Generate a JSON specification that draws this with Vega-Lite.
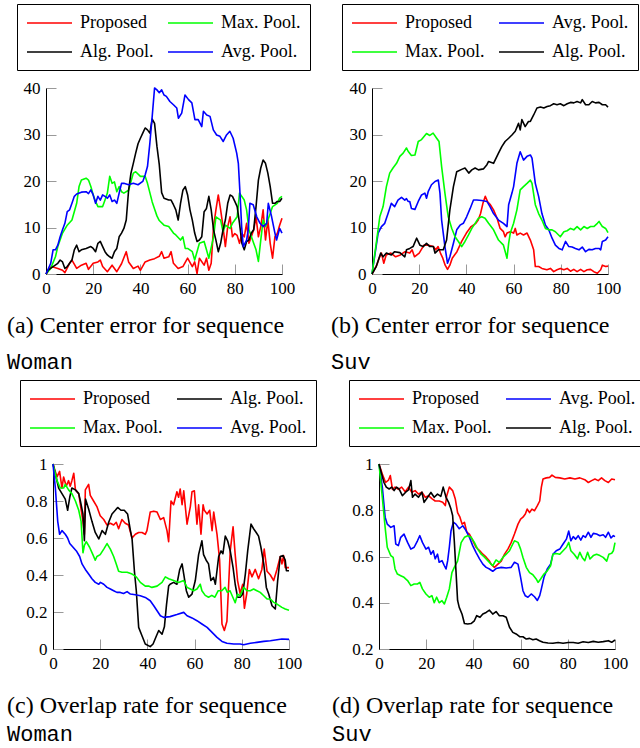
{
"$schema":"https://vega.github.io/schema/vega-lite/v6.json",
"padding":{"left":7,"top":3,"right":0,"bottom":0},
"datasets":{
"a":[
{"s":"P","x":0,"y":0},{"s":"P","x":2,"y":1.5},{"s":"P","x":3,"y":1.5},{"s":"P","x":5,"y":1.2},{"s":"P","x":7,"y":0.8},{"s":"P","x":8,"y":0.3},{"s":"P","x":10,"y":2.3},{"s":"P","x":11,"y":3},{"s":"P","x":13,"y":1.2},{"s":"P","x":15,"y":1.9},{"s":"P","x":17,"y":2.3},{"s":"P","x":18,"y":1},{"s":"P","x":20,"y":2.3},{"s":"P","x":22,"y":2.6},{"s":"P","x":23,"y":3},{"s":"P","x":24,"y":1.6},{"s":"P","x":26,"y":0.5},{"s":"P","x":28,"y":1.9},{"s":"P","x":30,"y":0.5},{"s":"P","x":32,"y":2.2},{"s":"P","x":34,"y":4.8},{"s":"P","x":35,"y":2.6},{"s":"P","x":37,"y":1.2},{"s":"P","x":39,"y":1.7},{"s":"P","x":40,"y":0.8},{"s":"P","x":42,"y":2.6},{"s":"P","x":44,"y":3},{"s":"P","x":46,"y":3.3},{"s":"P","x":48,"y":3.8},{"s":"P","x":49,"y":4.8},{"s":"P","x":50,"y":3.4},{"s":"P","x":52,"y":3.7},{"s":"P","x":53,"y":4.8},{"s":"P","x":54,"y":2.3},{"s":"P","x":56,"y":1.2},{"s":"P","x":58,"y":1.6},{"s":"P","x":60,"y":3.4},{"s":"P","x":62,"y":1.6},{"s":"P","x":63,"y":2.6},{"s":"P","x":64,"y":0.1},{"s":"P","x":65,"y":3.4},{"s":"P","x":67,"y":1.9},{"s":"P","x":68,"y":3.4},{"s":"P","x":69,"y":0.8},{"s":"P","x":70,"y":2.3},{"s":"P","x":71,"y":10.2},{"s":"P","x":72,"y":13.8},{"s":"P","x":73,"y":17},{"s":"P","x":74,"y":13.8},{"s":"P","x":75,"y":10.2},{"s":"P","x":76,"y":5.9},{"s":"P","x":77,"y":10.2},{"s":"P","x":78,"y":12.3},{"s":"P","x":79,"y":8},{"s":"P","x":80,"y":8.7},{"s":"P","x":81,"y":8.3},{"s":"P","x":82,"y":6.6},{"s":"P","x":83,"y":8.7},{"s":"P","x":84,"y":8},{"s":"P","x":85,"y":10.9},{"s":"P","x":86,"y":6.6},{"s":"P","x":87,"y":8},{"s":"P","x":88,"y":9.5},{"s":"P","x":89,"y":12.3},{"s":"P","x":90,"y":8},{"s":"P","x":91,"y":10.2},{"s":"P","x":92,"y":13.8},{"s":"P","x":93,"y":7.3},{"s":"P","x":94,"y":11.6},{"s":"P","x":95,"y":6.6},{"s":"P","x":96,"y":3.4},{"s":"P","x":97,"y":8},{"s":"P","x":98,"y":8.7},{"s":"P","x":99,"y":10.5},{"s":"P","x":100,"y":12},
{"s":"M","x":0,"y":0},{"s":"M","x":2,"y":1.2},{"s":"M","x":4,"y":3.7},{"s":"M","x":5,"y":5.9},{"s":"M","x":7,"y":8.8},{"s":"M","x":9,"y":10.5},{"s":"M","x":11,"y":11.6},{"s":"M","x":13,"y":15.2},{"s":"M","x":14,"y":18.8},{"s":"M","x":15,"y":20.2},{"s":"M","x":17,"y":20.6},{"s":"M","x":18,"y":20.2},{"s":"M","x":19,"y":18.8},{"s":"M","x":20,"y":17},{"s":"M","x":21,"y":15.6},{"s":"M","x":22,"y":14.5},{"s":"M","x":24,"y":14.5},{"s":"M","x":25,"y":15.9},{"s":"M","x":26,"y":17.4},{"s":"M","x":27,"y":21},{"s":"M","x":28,"y":19.5},{"s":"M","x":29,"y":19.8},{"s":"M","x":30,"y":17.7},{"s":"M","x":31,"y":18.8},{"s":"M","x":32,"y":17.7},{"s":"M","x":33,"y":17.4},{"s":"M","x":35,"y":18},{"s":"M","x":37,"y":21.7},{"s":"M","x":38,"y":22},{"s":"M","x":40,"y":21},{"s":"M","x":42,"y":21},{"s":"M","x":43,"y":19.5},{"s":"M","x":44,"y":17.5},{"s":"M","x":45,"y":15.5},{"s":"M","x":46,"y":14},{"s":"M","x":47,"y":12.5},{"s":"M","x":48,"y":11.5},{"s":"M","x":50,"y":10.5},{"s":"M","x":52,"y":10.2},{"s":"M","x":54,"y":8.8},{"s":"M","x":55,"y":8.4},{"s":"M","x":57,"y":7.3},{"s":"M","x":58,"y":8},{"s":"M","x":59,"y":5.5},{"s":"M","x":60,"y":5.5},{"s":"M","x":62,"y":4.8},{"s":"M","x":63,"y":3},{"s":"M","x":64,"y":4.8},{"s":"M","x":65,"y":6.6},{"s":"M","x":67,"y":7},{"s":"M","x":68,"y":5.2},{"s":"M","x":69,"y":3.4},{"s":"M","x":71,"y":8},{"s":"M","x":72,"y":12.3},{"s":"M","x":74,"y":11.6},{"s":"M","x":75,"y":9.1},{"s":"M","x":76,"y":10.5},{"s":"M","x":78,"y":9.8},{"s":"M","x":79,"y":10.9},{"s":"M","x":81,"y":12.3},{"s":"M","x":82,"y":17.4},{"s":"M","x":84,"y":15.9},{"s":"M","x":85,"y":13.8},{"s":"M","x":86,"y":9.5},{"s":"M","x":88,"y":6.6},{"s":"M","x":89,"y":5.2},{"s":"M","x":90,"y":2.7},{"s":"M","x":91,"y":7.3},{"s":"M","x":92,"y":11.6},{"s":"M","x":93,"y":10.2},{"s":"M","x":95,"y":13},{"s":"M","x":96,"y":14.5},{"s":"M","x":98,"y":15.2},{"s":"M","x":99,"y":16.3},{"s":"M","x":100,"y":16.7},
{"s":"A","x":0,"y":0},{"s":"A","x":1,"y":0.9},{"s":"A","x":3,"y":1.6},{"s":"A","x":5,"y":2.3},{"s":"A","x":6,"y":3},{"s":"A","x":7,"y":2.6},{"s":"A","x":8,"y":1.2},{"s":"A","x":9,"y":1.6},{"s":"A","x":10,"y":2.3},{"s":"A","x":11,"y":3},{"s":"A","x":12,"y":5.2},{"s":"A","x":13,"y":6.2},{"s":"A","x":14,"y":4.8},{"s":"A","x":15,"y":5.2},{"s":"A","x":17,"y":5.5},{"s":"A","x":19,"y":5.9},{"s":"A","x":20,"y":5.5},{"s":"A","x":21,"y":4.8},{"s":"A","x":22,"y":6.6},{"s":"A","x":23,"y":7},{"s":"A","x":24,"y":5.9},{"s":"A","x":25,"y":4.8},{"s":"A","x":26,"y":4.1},{"s":"A","x":27,"y":3.7},{"s":"A","x":28,"y":3.4},{"s":"A","x":29,"y":4.8},{"s":"A","x":30,"y":5.5},{"s":"A","x":31,"y":8},{"s":"A","x":32,"y":8.8},{"s":"A","x":33,"y":9.8},{"s":"A","x":34,"y":11.6},{"s":"A","x":35,"y":18},{"s":"A","x":36,"y":21.7},{"s":"A","x":37,"y":23.8},{"s":"A","x":38,"y":26},{"s":"A","x":39,"y":28},{"s":"A","x":40,"y":29.2},{"s":"A","x":41,"y":30.3},{"s":"A","x":42,"y":31.4},{"s":"A","x":43,"y":31},{"s":"A","x":44,"y":30.3},{"s":"A","x":45,"y":33.3},{"s":"A","x":46,"y":32.4},{"s":"A","x":47,"y":27.5},{"s":"A","x":48,"y":23.5},{"s":"A","x":49,"y":17.5},{"s":"A","x":50,"y":16.3},{"s":"A","x":52,"y":15.9},{"s":"A","x":53,"y":15.9},{"s":"A","x":54,"y":14.9},{"s":"A","x":55,"y":13.8},{"s":"A","x":56,"y":11.6},{"s":"A","x":57,"y":15.2},{"s":"A","x":58,"y":18},{"s":"A","x":59,"y":18.8},{"s":"A","x":60,"y":17},{"s":"A","x":61,"y":13.8},{"s":"A","x":62,"y":11.6},{"s":"A","x":63,"y":8.8},{"s":"A","x":64,"y":7},{"s":"A","x":65,"y":7.3},{"s":"A","x":66,"y":8},{"s":"A","x":67,"y":13.4},{"s":"A","x":68,"y":14.1},{"s":"A","x":69,"y":16.7},{"s":"A","x":70,"y":13.8},{"s":"A","x":71,"y":9.5},{"s":"A","x":72,"y":7.3},{"s":"A","x":73,"y":4.8},{"s":"A","x":74,"y":6.6},{"s":"A","x":75,"y":9.5},{"s":"A","x":76,"y":11.6},{"s":"A","x":77,"y":15.2},{"s":"A","x":78,"y":17},{"s":"A","x":79,"y":16.7},{"s":"A","x":80,"y":15.6},{"s":"A","x":81,"y":14.5},{"s":"A","x":82,"y":10.9},{"s":"A","x":83,"y":6.6},{"s":"A","x":84,"y":5.2},{"s":"A","x":85,"y":7},{"s":"A","x":86,"y":7.3},{"s":"A","x":87,"y":8.8},{"s":"A","x":88,"y":9.5},{"s":"A","x":89,"y":14.5},{"s":"A","x":90,"y":20.2},{"s":"A","x":91,"y":22.8},{"s":"A","x":92,"y":24.5},{"s":"A","x":93,"y":23.8},{"s":"A","x":94,"y":21.7},{"s":"A","x":95,"y":18.8},{"s":"A","x":96,"y":15.2},{"s":"A","x":97,"y":15.2},{"s":"A","x":98,"y":15.6},{"s":"A","x":99,"y":15.6},{"s":"A","x":100,"y":16.3},
{"s":"V","x":0,"y":0},{"s":"V","x":2,"y":2.3},{"s":"V","x":3,"y":5.2},{"s":"V","x":4,"y":5.2},{"s":"V","x":5,"y":6.2},{"s":"V","x":6,"y":8},{"s":"V","x":7,"y":9.5},{"s":"V","x":8,"y":10.9},{"s":"V","x":9,"y":13.4},{"s":"V","x":10,"y":13.8},{"s":"V","x":11,"y":15.2},{"s":"V","x":12,"y":16.7},{"s":"V","x":13,"y":17.2},{"s":"V","x":15,"y":17.6},{"s":"V","x":17,"y":17.7},{"s":"V","x":18,"y":17.3},{"s":"V","x":19,"y":18.1},{"s":"V","x":20,"y":17},{"s":"V","x":21,"y":15.2},{"s":"V","x":22,"y":16.7},{"s":"V","x":23,"y":15.9},{"s":"V","x":24,"y":17},{"s":"V","x":25,"y":16.7},{"s":"V","x":26,"y":16.3},{"s":"V","x":27,"y":17},{"s":"V","x":28,"y":15.6},{"s":"V","x":29,"y":15.9},{"s":"V","x":30,"y":15.2},{"s":"V","x":31,"y":17.4},{"s":"V","x":32,"y":19.5},{"s":"V","x":33,"y":19.5},{"s":"V","x":35,"y":19.2},{"s":"V","x":37,"y":19.5},{"s":"V","x":39,"y":19.2},{"s":"V","x":41,"y":19.9},{"s":"V","x":42,"y":21.3},{"s":"V","x":43,"y":23.1},{"s":"V","x":44,"y":28.1},{"s":"V","x":45,"y":33.9},{"s":"V","x":46,"y":40},{"s":"V","x":47,"y":39.6},{"s":"V","x":48,"y":39},{"s":"V","x":49,"y":39.6},{"s":"V","x":50,"y":38.5},{"s":"V","x":51,"y":38.2},{"s":"V","x":52.5,"y":37.1},{"s":"V","x":54,"y":36.4},{"s":"V","x":55.4,"y":35.7},{"s":"V","x":56.1,"y":33.5},{"s":"V","x":57.5,"y":34.6},{"s":"V","x":58.9,"y":38.5},{"s":"V","x":60.4,"y":37.5},{"s":"V","x":61.8,"y":36.8},{"s":"V","x":63.1,"y":33.2},{"s":"V","x":64.5,"y":33.2},{"s":"V","x":66,"y":31.7},{"s":"V","x":66.7,"y":35},{"s":"V","x":68.1,"y":34.2},{"s":"V","x":69.5,"y":33.9},{"s":"V","x":70.9,"y":31},{"s":"V","x":72.3,"y":29.9},{"s":"V","x":73.7,"y":29.6},{"s":"V","x":75.1,"y":28.5},{"s":"V","x":76.5,"y":29.9},{"s":"V","x":77.9,"y":30.7},{"s":"V","x":79.3,"y":29.2},{"s":"V","x":80.8,"y":26},{"s":"V","x":81.5,"y":23.8},{"s":"V","x":82.2,"y":17.4},{"s":"V","x":82.9,"y":10.2},{"s":"V","x":83.6,"y":5.9},{"s":"V","x":85,"y":7.3},{"s":"V","x":85.7,"y":9.5},{"s":"V","x":86.4,"y":15.2},{"s":"V","x":87.8,"y":14.9},{"s":"V","x":89.3,"y":12.3},{"s":"V","x":90.7,"y":10.9},{"s":"V","x":92,"y":10.2},{"s":"V","x":93.5,"y":10.9},{"s":"V","x":94.2,"y":15.2},{"s":"V","x":95.6,"y":12.3},{"s":"V","x":97,"y":8.8},{"s":"V","x":97.7,"y":7.3},{"s":"V","x":99,"y":9.8},{"s":"V","x":100,"y":8.8}
],
"b":[
{"s":"P","x":0,"y":0},{"s":"P","x":2,"y":1.9},{"s":"P","x":3,"y":3.4},{"s":"P","x":4,"y":4.5},{"s":"P","x":5,"y":2.3},{"s":"P","x":6,"y":4.1},{"s":"P","x":8,"y":4.5},{"s":"P","x":10,"y":3.7},{"s":"P","x":12,"y":4.1},{"s":"P","x":14,"y":4.8},{"s":"P","x":16,"y":4.5},{"s":"P","x":17,"y":5.2},{"s":"P","x":18,"y":3.7},{"s":"P","x":20,"y":4.5},{"s":"P","x":22,"y":6.2},{"s":"P","x":24,"y":6.2},{"s":"P","x":26,"y":5.9},{"s":"P","x":27,"y":5.2},{"s":"P","x":28,"y":5.9},{"s":"P","x":29,"y":4.5},{"s":"P","x":30,"y":3.4},{"s":"P","x":31,"y":1.9},{"s":"P","x":32,"y":1},{"s":"P","x":33,"y":1.9},{"s":"P","x":34,"y":3.4},{"s":"P","x":36,"y":4.8},{"s":"P","x":38,"y":7},{"s":"P","x":40,"y":8.8},{"s":"P","x":42,"y":10.2},{"s":"P","x":44,"y":10.9},{"s":"P","x":45,"y":11.6},{"s":"P","x":46,"y":13},{"s":"P","x":47,"y":15.2},{"s":"P","x":48,"y":16.7},{"s":"P","x":49,"y":15.5},{"s":"P","x":50,"y":15},{"s":"P","x":51.5,"y":13.8},{"s":"P","x":53,"y":12},{"s":"P","x":54.3,"y":9.8},{"s":"P","x":55.7,"y":9.1},{"s":"P","x":56.4,"y":8},{"s":"P","x":57.2,"y":8.8},{"s":"P","x":58.6,"y":9.1},{"s":"P","x":60,"y":8.8},{"s":"P","x":60.7,"y":9.8},{"s":"P","x":61.4,"y":8.4},{"s":"P","x":62.8,"y":8.8},{"s":"P","x":64.2,"y":8.4},{"s":"P","x":65.7,"y":8.8},{"s":"P","x":67.1,"y":7.3},{"s":"P","x":68.5,"y":5.2},{"s":"P","x":69.2,"y":1.6},{"s":"P","x":70.6,"y":1.6},{"s":"P","x":72,"y":1.2},{"s":"P","x":74.1,"y":0.9},{"s":"P","x":75.6,"y":1.2},{"s":"P","x":77,"y":0.5},{"s":"P","x":78.4,"y":0.9},{"s":"P","x":79.8,"y":1.2},{"s":"P","x":81.3,"y":0.9},{"s":"P","x":82.7,"y":1.2},{"s":"P","x":84.1,"y":0.6},{"s":"P","x":85.5,"y":1},{"s":"P","x":86.9,"y":0.5},{"s":"P","x":88.4,"y":1},{"s":"P","x":89.8,"y":0.5},{"s":"P","x":91.2,"y":0.9},{"s":"P","x":92.6,"y":1},{"s":"P","x":94,"y":0.5},{"s":"P","x":95.5,"y":0.15},{"s":"P","x":96.9,"y":0.9},{"s":"P","x":97.6,"y":1.9},{"s":"P","x":99,"y":1.6},{"s":"P","x":100,"y":1.7},
{"s":"V","x":0,"y":0},{"s":"V","x":2.6,"y":8.8},{"s":"V","x":4,"y":10.2},{"s":"V","x":5.4,"y":10.9},{"s":"V","x":6.8,"y":13},{"s":"V","x":8.2,"y":15.2},{"s":"V","x":9.6,"y":14.5},{"s":"V","x":11,"y":15.9},{"s":"V","x":12.5,"y":16.5},{"s":"V","x":13.9,"y":15.9},{"s":"V","x":14.6,"y":16.2},{"s":"V","x":15.3,"y":15.6},{"s":"V","x":16,"y":15.6},{"s":"V","x":16.7,"y":14.1},{"s":"V","x":18.2,"y":13.9},{"s":"V","x":19.6,"y":15.6},{"s":"V","x":21,"y":17},{"s":"V","x":22.4,"y":17.4},{"s":"V","x":23.1,"y":16.3},{"s":"V","x":23.8,"y":17.7},{"s":"V","x":25.2,"y":19.2},{"s":"V","x":26.7,"y":19.9},{"s":"V","x":28.1,"y":20.2},{"s":"V","x":28.8,"y":17.4},{"s":"V","x":29.5,"y":11.6},{"s":"V","x":30.9,"y":5.9},{"s":"V","x":32,"y":2.3},{"s":"V","x":33,"y":3.7},{"s":"V","x":34.5,"y":6.6},{"s":"V","x":35.9,"y":9.5},{"s":"V","x":37.3,"y":10.5},{"s":"V","x":38.7,"y":10.9},{"s":"V","x":40.1,"y":12.3},{"s":"V","x":41.6,"y":14.1},{"s":"V","x":43,"y":15.9},{"s":"V","x":44.4,"y":15.9},{"s":"V","x":46.5,"y":15.8},{"s":"V","x":48.7,"y":15.6},{"s":"V","x":50,"y":14.5},{"s":"V","x":51.5,"y":13},{"s":"V","x":53.6,"y":11.6},{"s":"V","x":55.7,"y":10.9},{"s":"V","x":57.2,"y":10.2},{"s":"V","x":57.9,"y":14.9},{"s":"V","x":59.3,"y":17.4},{"s":"V","x":60,"y":18.8},{"s":"V","x":61.4,"y":23.8},{"s":"V","x":62.8,"y":26.3},{"s":"V","x":64.2,"y":24.5},{"s":"V","x":65.7,"y":25.3},{"s":"V","x":67.1,"y":25.6},{"s":"V","x":67.8,"y":24.9},{"s":"V","x":69.2,"y":19.5},{"s":"V","x":70.6,"y":16.7},{"s":"V","x":72,"y":13},{"s":"V","x":73.5,"y":10.5},{"s":"V","x":74.9,"y":9.5},{"s":"V","x":76.3,"y":7.7},{"s":"V","x":77.7,"y":6.2},{"s":"V","x":79.2,"y":5.5},{"s":"V","x":80.6,"y":5.2},{"s":"V","x":82,"y":7},{"s":"V","x":83.4,"y":5.9},{"s":"V","x":84.8,"y":5.8},{"s":"V","x":86.2,"y":5.5},{"s":"V","x":87.7,"y":5.2},{"s":"V","x":89.1,"y":5.8},{"s":"V","x":90.5,"y":4.8},{"s":"V","x":91.9,"y":5.3},{"s":"V","x":93.3,"y":5.2},{"s":"V","x":94.7,"y":5.5},{"s":"V","x":96.2,"y":5.5},{"s":"V","x":96.9,"y":5.2},{"s":"V","x":97.6,"y":7},{"s":"V","x":99,"y":7.3},{"s":"V","x":100,"y":8},
{"s":"M","x":0,"y":0},{"s":"M","x":1.8,"y":6.6},{"s":"M","x":3.3,"y":12.3},{"s":"M","x":4.7,"y":14.5},{"s":"M","x":6.1,"y":18.8},{"s":"M","x":7.5,"y":21.7},{"s":"M","x":8.9,"y":22.8},{"s":"M","x":10.4,"y":23.8},{"s":"M","x":11.8,"y":25.3},{"s":"M","x":13.2,"y":26},{"s":"M","x":14.6,"y":27.1},{"s":"M","x":15.3,"y":26.4},{"s":"M","x":16.7,"y":25.5},{"s":"M","x":18.2,"y":25.6},{"s":"M","x":19.6,"y":28.5},{"s":"M","x":21,"y":28.9},{"s":"M","x":23.1,"y":30.2},{"s":"M","x":24.5,"y":29.8},{"s":"M","x":25.9,"y":30.3},{"s":"M","x":27.4,"y":29.2},{"s":"M","x":28.4,"y":28.5},{"s":"M","x":29.5,"y":23.1},{"s":"M","x":30.9,"y":17.4},{"s":"M","x":32.3,"y":12.3},{"s":"M","x":33.8,"y":9.8},{"s":"M","x":35.2,"y":8},{"s":"M","x":36.6,"y":7},{"s":"M","x":38,"y":5.9},{"s":"M","x":39.4,"y":7},{"s":"M","x":40.9,"y":8.4},{"s":"M","x":42.3,"y":9.8},{"s":"M","x":43.7,"y":10.9},{"s":"M","x":45.1,"y":12},{"s":"M","x":46.5,"y":12.3},{"s":"M","x":47.9,"y":12},{"s":"M","x":49.4,"y":10.9},{"s":"M","x":51.5,"y":9.5},{"s":"M","x":53.6,"y":7.3},{"s":"M","x":55.7,"y":6.2},{"s":"M","x":57.2,"y":3.4},{"s":"M","x":57.9,"y":6.6},{"s":"M","x":58.6,"y":8.8},{"s":"M","x":60,"y":10.9},{"s":"M","x":61.4,"y":13.8},{"s":"M","x":62.8,"y":18.1},{"s":"M","x":64.2,"y":18.8},{"s":"M","x":65.7,"y":19.5},{"s":"M","x":67.1,"y":20.2},{"s":"M","x":67.8,"y":19.5},{"s":"M","x":69.2,"y":14.9},{"s":"M","x":70.6,"y":13},{"s":"M","x":72,"y":11.6},{"s":"M","x":73.5,"y":9.8},{"s":"M","x":74.9,"y":9.5},{"s":"M","x":76.3,"y":9.5},{"s":"M","x":77.7,"y":9.1},{"s":"M","x":79.8,"y":8},{"s":"M","x":81.3,"y":9.1},{"s":"M","x":82.7,"y":9.3},{"s":"M","x":84.1,"y":9.8},{"s":"M","x":85.5,"y":9.5},{"s":"M","x":86.9,"y":10.2},{"s":"M","x":88.4,"y":9.5},{"s":"M","x":89.8,"y":10.2},{"s":"M","x":91.2,"y":9.8},{"s":"M","x":92.6,"y":10.2},{"s":"M","x":94,"y":10.2},{"s":"M","x":95.5,"y":10.9},{"s":"M","x":96.2,"y":11.3},{"s":"M","x":97.6,"y":10.2},{"s":"M","x":99,"y":9.8},{"s":"M","x":100,"y":8.9},
{"s":"A","x":0,"y":0},{"s":"A","x":1.8,"y":1.6},{"s":"A","x":3.7,"y":4.5},{"s":"A","x":4.7,"y":3.7},{"s":"A","x":6.1,"y":4.5},{"s":"A","x":8.2,"y":4.1},{"s":"A","x":9.6,"y":4.8},{"s":"A","x":11.8,"y":4.6},{"s":"A","x":13.9,"y":3.7},{"s":"A","x":14.6,"y":5.2},{"s":"A","x":16,"y":5.5},{"s":"A","x":17.4,"y":5.9},{"s":"A","x":18.9,"y":7.7},{"s":"A","x":20.3,"y":6.2},{"s":"A","x":21.7,"y":5.9},{"s":"A","x":23.1,"y":6.6},{"s":"A","x":24.5,"y":5.9},{"s":"A","x":26,"y":5.9},{"s":"A","x":26.7,"y":4.5},{"s":"A","x":28.1,"y":5.2},{"s":"A","x":30.2,"y":5.2},{"s":"A","x":31.6,"y":7.3},{"s":"A","x":33,"y":13.8},{"s":"A","x":34.5,"y":18.8},{"s":"A","x":35.9,"y":22},{"s":"A","x":38,"y":22.5},{"s":"A","x":39.4,"y":22.8},{"s":"A","x":41,"y":21.7},{"s":"A","x":42.3,"y":22.4},{"s":"A","x":43.7,"y":22.8},{"s":"A","x":45.1,"y":22.4},{"s":"A","x":47.2,"y":22.6},{"s":"A","x":48.7,"y":23.5},{"s":"A","x":49.4,"y":24.2},{"s":"A","x":51.5,"y":23.8},{"s":"A","x":53.6,"y":26},{"s":"A","x":55,"y":27.4},{"s":"A","x":56.4,"y":28.5},{"s":"A","x":57.9,"y":29.2},{"s":"A","x":59.3,"y":29.9},{"s":"A","x":60.7,"y":30.7},{"s":"A","x":62.1,"y":32.4},{"s":"A","x":62.8,"y":31},{"s":"A","x":63.5,"y":33.2},{"s":"A","x":64.9,"y":31.7},{"s":"A","x":66.3,"y":32.8},{"s":"A","x":67.1,"y":32.8},{"s":"A","x":68.5,"y":34.2},{"s":"A","x":69.9,"y":35.7},{"s":"A","x":71.4,"y":35.9},{"s":"A","x":72.8,"y":35.7},{"s":"A","x":74.2,"y":36},{"s":"A","x":75.6,"y":36.2},{"s":"A","x":77,"y":36.6},{"s":"A","x":78.4,"y":36.4},{"s":"A","x":79.8,"y":36.6},{"s":"A","x":81.3,"y":36.2},{"s":"A","x":82.7,"y":36.6},{"s":"A","x":84.1,"y":36.9},{"s":"A","x":85.5,"y":36.8},{"s":"A","x":86.9,"y":37.1},{"s":"A","x":88.4,"y":36.8},{"s":"A","x":89.1,"y":37.5},{"s":"A","x":90.5,"y":36.4},{"s":"A","x":91.9,"y":36.4},{"s":"A","x":93.3,"y":37.1},{"s":"A","x":94.7,"y":36.8},{"s":"A","x":96.2,"y":36.9},{"s":"A","x":97.6,"y":36.4},{"s":"A","x":99,"y":36.4},{"s":"A","x":100,"y":35.9}
],
"c":[
{"s":"P","x":0,"y":1},{"s":"P","x":1.7,"y":0.93},{"s":"P","x":2.8,"y":0.96},{"s":"P","x":3.8,"y":0.87},{"s":"P","x":4.5,"y":0.93},{"s":"P","x":5.6,"y":0.88},{"s":"P","x":6.6,"y":0.91},{"s":"P","x":7.3,"y":0.88},{"s":"P","x":8,"y":0.91},{"s":"P","x":8.8,"y":0.95},{"s":"P","x":9.5,"y":0.86},{"s":"P","x":10.9,"y":0.84},{"s":"P","x":11.6,"y":0.78},{"s":"P","x":12.7,"y":0.69},{"s":"P","x":13.3,"y":0.62},{"s":"P","x":13.7,"y":0.86},{"s":"P","x":15.1,"y":0.89},{"s":"P","x":15.8,"y":0.83},{"s":"P","x":17.2,"y":0.8},{"s":"P","x":18.6,"y":0.77},{"s":"P","x":20,"y":0.72},{"s":"P","x":21.5,"y":0.7},{"s":"P","x":22.9,"y":0.67},{"s":"P","x":24.3,"y":0.68},{"s":"P","x":25.7,"y":0.67},{"s":"P","x":26.8,"y":0.685},{"s":"P","x":27.8,"y":0.65},{"s":"P","x":29.2,"y":0.7},{"s":"P","x":30.6,"y":0.68},{"s":"P","x":32,"y":0.67},{"s":"P","x":33.5,"y":0.6},{"s":"P","x":34.9,"y":0.62},{"s":"P","x":36.3,"y":0.63},{"s":"P","x":37.7,"y":0.63},{"s":"P","x":39.1,"y":0.62},{"s":"P","x":39.8,"y":0.64},{"s":"P","x":41.2,"y":0.74},{"s":"P","x":42.7,"y":0.745},{"s":"P","x":44.1,"y":0.74},{"s":"P","x":45.5,"y":0.7},{"s":"P","x":46.9,"y":0.71},{"s":"P","x":48.3,"y":0.64},{"s":"P","x":49,"y":0.58},{"s":"P","x":50,"y":0.8},{"s":"P","x":51.1,"y":0.78},{"s":"P","x":52.5,"y":0.85},{"s":"P","x":53.2,"y":0.82},{"s":"P","x":53.9,"y":0.865},{"s":"P","x":54.7,"y":0.78},{"s":"P","x":55.4,"y":0.855},{"s":"P","x":56.8,"y":0.675},{"s":"P","x":58.2,"y":0.77},{"s":"P","x":58.9,"y":0.85},{"s":"P","x":59.9,"y":0.855},{"s":"P","x":61,"y":0.675},{"s":"P","x":61.7,"y":0.78},{"s":"P","x":62.7,"y":0.62},{"s":"P","x":63.6,"y":0.78},{"s":"P","x":64.1,"y":0.75},{"s":"P","x":65.3,"y":0.73},{"s":"P","x":66.4,"y":0.75},{"s":"P","x":67.4,"y":0.64},{"s":"P","x":68.1,"y":0.74},{"s":"P","x":69.5,"y":0.62},{"s":"P","x":70.6,"y":0.48},{"s":"P","x":71.6,"y":0.135},{"s":"P","x":72.6,"y":0.1},{"s":"P","x":73.7,"y":0.15},{"s":"P","x":75.1,"y":0.53},{"s":"P","x":76.3,"y":0.66},{"s":"P","x":77.2,"y":0.51},{"s":"P","x":78.2,"y":0.37},{"s":"P","x":79.3,"y":0.3},{"s":"P","x":80.4,"y":0.35},{"s":"P","x":81.1,"y":0.22},{"s":"P","x":82.1,"y":0.3},{"s":"P","x":83.2,"y":0.43},{"s":"P","x":84.3,"y":0.39},{"s":"P","x":85.7,"y":0.43},{"s":"P","x":87.1,"y":0.38},{"s":"P","x":88.5,"y":0.43},{"s":"P","x":89.5,"y":0.54},{"s":"P","x":90.7,"y":0.42},{"s":"P","x":92.1,"y":0.4},{"s":"P","x":93.5,"y":0.37},{"s":"P","x":94.9,"y":0.43},{"s":"P","x":96.3,"y":0.5},{"s":"P","x":97,"y":0.46},{"s":"P","x":97.7,"y":0.505},{"s":"P","x":98.4,"y":0.44},{"s":"P","x":100,"y":0.44},
{"s":"A","x":0,"y":1},{"s":"A","x":2.4,"y":0.87},{"s":"A","x":3.8,"y":0.84},{"s":"A","x":5.2,"y":0.81},{"s":"A","x":6.2,"y":0.75},{"s":"A","x":7.1,"y":0.82},{"s":"A","x":8,"y":0.87},{"s":"A","x":9.5,"y":0.86},{"s":"A","x":10.9,"y":0.84},{"s":"A","x":11.6,"y":0.8},{"s":"A","x":12.7,"y":0.73},{"s":"A","x":13.3,"y":0.585},{"s":"A","x":13.8,"y":0.81},{"s":"A","x":15.1,"y":0.757},{"s":"A","x":16.5,"y":0.69},{"s":"A","x":17.9,"y":0.63},{"s":"A","x":19.4,"y":0.595},{"s":"A","x":20.8,"y":0.64},{"s":"A","x":22.2,"y":0.62},{"s":"A","x":23.6,"y":0.685},{"s":"A","x":25,"y":0.73},{"s":"A","x":26.4,"y":0.75},{"s":"A","x":27.4,"y":0.765},{"s":"A","x":28.8,"y":0.75},{"s":"A","x":30.2,"y":0.75},{"s":"A","x":31.6,"y":0.73},{"s":"A","x":32.8,"y":0.64},{"s":"A","x":33.5,"y":0.595},{"s":"A","x":34.5,"y":0.42},{"s":"A","x":35.3,"y":0.315},{"s":"A","x":36.3,"y":0.117},{"s":"A","x":37.7,"y":0.072},{"s":"A","x":39.1,"y":0.027},{"s":"A","x":41.2,"y":0.013},{"s":"A","x":42.4,"y":0.027},{"s":"A","x":43.8,"y":0.07},{"s":"A","x":44.8,"y":0.1},{"s":"A","x":46.2,"y":0.08},{"s":"A","x":47.2,"y":0.12},{"s":"A","x":48.1,"y":0.24},{"s":"A","x":49,"y":0.34},{"s":"A","x":49.6,"y":0.35},{"s":"A","x":51.1,"y":0.36},{"s":"A","x":52.5,"y":0.35},{"s":"A","x":53.7,"y":0.43},{"s":"A","x":54.7,"y":0.46},{"s":"A","x":55.4,"y":0.405},{"s":"A","x":56.5,"y":0.315},{"s":"A","x":57.5,"y":0.28},{"s":"A","x":58.9,"y":0.297},{"s":"A","x":60.3,"y":0.37},{"s":"A","x":61.7,"y":0.51},{"s":"A","x":63.1,"y":0.585},{"s":"A","x":63.8,"y":0.51},{"s":"A","x":64.9,"y":0.48},{"s":"A","x":65.9,"y":0.46},{"s":"A","x":66.9,"y":0.37},{"s":"A","x":68,"y":0.387},{"s":"A","x":68.8,"y":0.35},{"s":"A","x":70.2,"y":0.5},{"s":"A","x":71.2,"y":0.53},{"s":"A","x":72,"y":0.515},{"s":"A","x":73,"y":0.61},{"s":"A","x":74,"y":0.585},{"s":"A","x":75.1,"y":0.53},{"s":"A","x":76.3,"y":0.44},{"s":"A","x":77.2,"y":0.35},{"s":"A","x":78.2,"y":0.28},{"s":"A","x":79.3,"y":0.28},{"s":"A","x":80.4,"y":0.297},{"s":"A","x":81.5,"y":0.405},{"s":"A","x":82.5,"y":0.53},{"s":"A","x":83.9,"y":0.675},{"s":"A","x":85,"y":0.65},{"s":"A","x":86.1,"y":0.63},{"s":"A","x":87.1,"y":0.61},{"s":"A","x":88.1,"y":0.55},{"s":"A","x":89.3,"y":0.46},{"s":"A","x":90.4,"y":0.333},{"s":"A","x":91.4,"y":0.297},{"s":"A","x":92.8,"y":0.234},{"s":"A","x":94.2,"y":0.216},{"s":"A","x":95.2,"y":0.37},{"s":"A","x":96.3,"y":0.5},{"s":"A","x":97.5,"y":0.505},{"s":"A","x":98.4,"y":0.48},{"s":"A","x":98.9,"y":0.423},{"s":"A","x":100,"y":0.423},
{"s":"M","x":0,"y":1},{"s":"M","x":1.7,"y":0.91},{"s":"M","x":3.1,"y":0.87},{"s":"M","x":4.5,"y":0.87},{"s":"M","x":5.2,"y":0.89},{"s":"M","x":6.6,"y":0.86},{"s":"M","x":8,"y":0.84},{"s":"M","x":9.5,"y":0.8},{"s":"M","x":10.9,"y":0.75},{"s":"M","x":11.9,"y":0.69},{"s":"M","x":12.7,"y":0.52},{"s":"M","x":13.3,"y":0.56},{"s":"M","x":14.1,"y":0.58},{"s":"M","x":15.5,"y":0.55},{"s":"M","x":16.9,"y":0.51},{"s":"M","x":17.9,"y":0.48},{"s":"M","x":18.6,"y":0.5},{"s":"M","x":20,"y":0.51},{"s":"M","x":21.5,"y":0.54},{"s":"M","x":22.9,"y":0.57},{"s":"M","x":24.3,"y":0.54},{"s":"M","x":25.7,"y":0.5},{"s":"M","x":26.8,"y":0.46},{"s":"M","x":27.8,"y":0.42},{"s":"M","x":29.2,"y":0.415},{"s":"M","x":31.4,"y":0.415},{"s":"M","x":33.5,"y":0.405},{"s":"M","x":35.3,"y":0.39},{"s":"M","x":37,"y":0.36},{"s":"M","x":39.1,"y":0.34},{"s":"M","x":40.5,"y":0.34},{"s":"M","x":41.9,"y":0.333},{"s":"M","x":44.1,"y":0.34},{"s":"M","x":46.2,"y":0.36},{"s":"M","x":47.6,"y":0.39},{"s":"M","x":49,"y":0.38},{"s":"M","x":51.1,"y":0.37},{"s":"M","x":53.2,"y":0.36},{"s":"M","x":55.4,"y":0.37},{"s":"M","x":56.8,"y":0.333},{"s":"M","x":58.2,"y":0.324},{"s":"M","x":59.6,"y":0.315},{"s":"M","x":61,"y":0.324},{"s":"M","x":62.4,"y":0.35},{"s":"M","x":63.1,"y":0.315},{"s":"M","x":64.5,"y":0.29},{"s":"M","x":65.9,"y":0.28},{"s":"M","x":67.3,"y":0.29},{"s":"M","x":68.6,"y":0.28},{"s":"M","x":70,"y":0.315},{"s":"M","x":71.5,"y":0.315},{"s":"M","x":72.9,"y":0.333},{"s":"M","x":73.9,"y":0.306},{"s":"M","x":75,"y":0.315},{"s":"M","x":76.2,"y":0.28},{"s":"M","x":77.2,"y":0.25},{"s":"M","x":78.2,"y":0.297},{"s":"M","x":79.3,"y":0.288},{"s":"M","x":80.8,"y":0.333},{"s":"M","x":82.2,"y":0.315},{"s":"M","x":83.6,"y":0.315},{"s":"M","x":85,"y":0.324},{"s":"M","x":86.4,"y":0.315},{"s":"M","x":87.8,"y":0.306},{"s":"M","x":89.3,"y":0.288},{"s":"M","x":90.7,"y":0.27},{"s":"M","x":92.1,"y":0.27},{"s":"M","x":93.5,"y":0.252},{"s":"M","x":94.9,"y":0.243},{"s":"M","x":97,"y":0.225},{"s":"M","x":98.4,"y":0.216},{"s":"M","x":100,"y":0.21},
{"s":"V","x":0,"y":1},{"s":"V","x":1,"y":0.87},{"s":"V","x":2,"y":0.69},{"s":"V","x":2.8,"y":0.62},{"s":"V","x":3.8,"y":0.64},{"s":"V","x":5.2,"y":0.62},{"s":"V","x":6.2,"y":0.6},{"s":"V","x":7.1,"y":0.57},{"s":"V","x":8.5,"y":0.55},{"s":"V","x":9.9,"y":0.53},{"s":"V","x":11.3,"y":0.5},{"s":"V","x":12.3,"y":0.46},{"s":"V","x":13.7,"y":0.43},{"s":"V","x":15.1,"y":0.405},{"s":"V","x":16.5,"y":0.38},{"s":"V","x":17.9,"y":0.36},{"s":"V","x":19.4,"y":0.35},{"s":"V","x":20.1,"y":0.36},{"s":"V","x":21.5,"y":0.35},{"s":"V","x":22.9,"y":0.333},{"s":"V","x":24.3,"y":0.324},{"s":"V","x":25.7,"y":0.315},{"s":"V","x":27.1,"y":0.306},{"s":"V","x":28.5,"y":0.306},{"s":"V","x":29.9,"y":0.3},{"s":"V","x":31.4,"y":0.31},{"s":"V","x":32.8,"y":0.297},{"s":"V","x":34.9,"y":0.293},{"s":"V","x":37,"y":0.288},{"s":"V","x":39.1,"y":0.279},{"s":"V","x":41.2,"y":0.261},{"s":"V","x":42.7,"y":0.234},{"s":"V","x":44.1,"y":0.207},{"s":"V","x":45.5,"y":0.18},{"s":"V","x":46.9,"y":0.171},{"s":"V","x":49.6,"y":0.175},{"s":"V","x":52.5,"y":0.186},{"s":"V","x":55.4,"y":0.198},{"s":"V","x":56.8,"y":0.18},{"s":"V","x":58.9,"y":0.168},{"s":"V","x":61,"y":0.153},{"s":"V","x":63.1,"y":0.135},{"s":"V","x":65.3,"y":0.117},{"s":"V","x":67.4,"y":0.09},{"s":"V","x":69.5,"y":0.063},{"s":"V","x":71.6,"y":0.041},{"s":"V","x":73.7,"y":0.031},{"s":"V","x":76.6,"y":0.027},{"s":"V","x":79.3,"y":0.027},{"s":"V","x":80.8,"y":0.023},{"s":"V","x":83.6,"y":0.031},{"s":"V","x":86.4,"y":0.036},{"s":"V","x":89.3,"y":0.041},{"s":"V","x":92.1,"y":0.045},{"s":"V","x":94.9,"y":0.05},{"s":"V","x":97,"y":0.054},{"s":"V","x":100,"y":0.052}
],
"d":[
{"s":"P","x":0,"y":1},{"s":"P","x":1.4,"y":0.957},{"s":"P","x":2.8,"y":0.92},{"s":"P","x":4,"y":0.93},{"s":"P","x":4.8,"y":0.95},{"s":"P","x":5.7,"y":0.89},{"s":"P","x":6.8,"y":0.9},{"s":"P","x":8.2,"y":0.89},{"s":"P","x":9.6,"y":0.9},{"s":"P","x":11.1,"y":0.88},{"s":"P","x":12.5,"y":0.9},{"s":"P","x":13.9,"y":0.878},{"s":"P","x":15.3,"y":0.885},{"s":"P","x":16.7,"y":0.87},{"s":"P","x":18.2,"y":0.878},{"s":"P","x":19.6,"y":0.856},{"s":"P","x":21,"y":0.863},{"s":"P","x":22.4,"y":0.85},{"s":"P","x":23.8,"y":0.84},{"s":"P","x":25.5,"y":0.84},{"s":"P","x":27,"y":0.835},{"s":"P","x":28.1,"y":0.82},{"s":"P","x":28.7,"y":0.863},{"s":"P","x":29.8,"y":0.9},{"s":"P","x":31.2,"y":0.885},{"s":"P","x":32.3,"y":0.85},{"s":"P","x":33.3,"y":0.79},{"s":"P","x":34.3,"y":0.77},{"s":"P","x":35.2,"y":0.74},{"s":"P","x":36.2,"y":0.748},{"s":"P","x":37.2,"y":0.705},{"s":"P","x":38.3,"y":0.697},{"s":"P","x":39.7,"y":0.67},{"s":"P","x":41.1,"y":0.64},{"s":"P","x":42.6,"y":0.626},{"s":"P","x":44,"y":0.61},{"s":"P","x":45.4,"y":0.597},{"s":"P","x":46.8,"y":0.58},{"s":"P","x":47.5,"y":0.567},{"s":"P","x":48.9,"y":0.553},{"s":"P","x":50.4,"y":0.567},{"s":"P","x":51.8,"y":0.58},{"s":"P","x":53.2,"y":0.61},{"s":"P","x":54.6,"y":0.632},{"s":"P","x":56,"y":0.66},{"s":"P","x":57.4,"y":0.697},{"s":"P","x":58.9,"y":0.74},{"s":"P","x":60,"y":0.762},{"s":"P","x":61,"y":0.77},{"s":"P","x":62,"y":0.784},{"s":"P","x":62.8,"y":0.805},{"s":"P","x":63.8,"y":0.79},{"s":"P","x":64.8,"y":0.805},{"s":"P","x":65.9,"y":0.798},{"s":"P","x":67.1,"y":0.82},{"s":"P","x":68.1,"y":0.84},{"s":"P","x":68.8,"y":0.9},{"s":"P","x":69.5,"y":0.935},{"s":"P","x":70.9,"y":0.94},{"s":"P","x":72.3,"y":0.942},{"s":"P","x":73.3,"y":0.952},{"s":"P","x":74.7,"y":0.942},{"s":"P","x":76.6,"y":0.94},{"s":"P","x":78.7,"y":0.935},{"s":"P","x":80.9,"y":0.94},{"s":"P","x":83,"y":0.935},{"s":"P","x":85.1,"y":0.94},{"s":"P","x":87.2,"y":0.932},{"s":"P","x":88.7,"y":0.92},{"s":"P","x":90.1,"y":0.928},{"s":"P","x":91.5,"y":0.935},{"s":"P","x":92.9,"y":0.928},{"s":"P","x":94.3,"y":0.94},{"s":"P","x":95.7,"y":0.928},{"s":"P","x":97.2,"y":0.92},{"s":"P","x":98.6,"y":0.935},{"s":"P","x":100,"y":0.932},
{"s":"V","x":0,"y":1},{"s":"V","x":1.4,"y":0.9},{"s":"V","x":2.6,"y":0.77},{"s":"V","x":3.5,"y":0.74},{"s":"V","x":5,"y":0.726},{"s":"V","x":6.4,"y":0.733},{"s":"V","x":7.1,"y":0.654},{"s":"V","x":8.2,"y":0.647},{"s":"V","x":9.2,"y":0.683},{"s":"V","x":10.6,"y":0.697},{"s":"V","x":12.1,"y":0.661},{"s":"V","x":13.5,"y":0.632},{"s":"V","x":14.9,"y":0.64},{"s":"V","x":16.3,"y":0.668},{"s":"V","x":17.3,"y":0.69},{"s":"V","x":18.4,"y":0.661},{"s":"V","x":19.9,"y":0.632},{"s":"V","x":21,"y":0.64},{"s":"V","x":22,"y":0.61},{"s":"V","x":23,"y":0.625},{"s":"V","x":23.8,"y":0.59},{"s":"V","x":24.8,"y":0.61},{"s":"V","x":25.5,"y":0.575},{"s":"V","x":26.7,"y":0.582},{"s":"V","x":27.7,"y":0.56},{"s":"V","x":28.4,"y":0.546},{"s":"V","x":29.1,"y":0.582},{"s":"V","x":29.8,"y":0.64},{"s":"V","x":30.5,"y":0.71},{"s":"V","x":31.5,"y":0.748},{"s":"V","x":32.6,"y":0.74},{"s":"V","x":34,"y":0.72},{"s":"V","x":35.5,"y":0.733},{"s":"V","x":36.9,"y":0.712},{"s":"V","x":38.3,"y":0.683},{"s":"V","x":39.7,"y":0.647},{"s":"V","x":41.1,"y":0.618},{"s":"V","x":42.6,"y":0.59},{"s":"V","x":44,"y":0.567},{"s":"V","x":45.4,"y":0.553},{"s":"V","x":46.8,"y":0.546},{"s":"V","x":48.2,"y":0.536},{"s":"V","x":49.6,"y":0.548},{"s":"V","x":51.8,"y":0.553},{"s":"V","x":53.9,"y":0.55},{"s":"V","x":56,"y":0.553},{"s":"V","x":57.4,"y":0.575},{"s":"V","x":58.9,"y":0.567},{"s":"V","x":60,"y":0.51},{"s":"V","x":61,"y":0.452},{"s":"V","x":62,"y":0.43},{"s":"V","x":63.1,"y":0.424},{"s":"V","x":64.5,"y":0.438},{"s":"V","x":65.9,"y":0.426},{"s":"V","x":67.1,"y":0.41},{"s":"V","x":68.1,"y":0.431},{"s":"V","x":68.8,"y":0.46},{"s":"V","x":69.9,"y":0.51},{"s":"V","x":71.3,"y":0.546},{"s":"V","x":72.7,"y":0.567},{"s":"V","x":73.7,"y":0.61},{"s":"V","x":75.1,"y":0.625},{"s":"V","x":76.6,"y":0.632},{"s":"V","x":78,"y":0.654},{"s":"V","x":79.4,"y":0.675},{"s":"V","x":80.4,"y":0.71},{"s":"V","x":81.3,"y":0.668},{"s":"V","x":82.3,"y":0.686},{"s":"V","x":83.3,"y":0.675},{"s":"V","x":84.4,"y":0.69},{"s":"V","x":85.5,"y":0.671},{"s":"V","x":86.5,"y":0.69},{"s":"V","x":87.5,"y":0.683},{"s":"V","x":88.7,"y":0.705},{"s":"V","x":89.8,"y":0.683},{"s":"V","x":90.8,"y":0.7},{"s":"V","x":92.2,"y":0.697},{"s":"V","x":93.6,"y":0.69},{"s":"V","x":95,"y":0.694},{"s":"V","x":96,"y":0.683},{"s":"V","x":97.2,"y":0.705},{"s":"V","x":98.3,"y":0.68},{"s":"V","x":99.3,"y":0.69},{"s":"V","x":100,"y":0.686},
{"s":"M","x":0,"y":1},{"s":"M","x":1.4,"y":0.856},{"s":"M","x":2.6,"y":0.726},{"s":"M","x":3.5,"y":0.64},{"s":"M","x":5,"y":0.604},{"s":"M","x":6,"y":0.596},{"s":"M","x":6.8,"y":0.546},{"s":"M","x":7.8,"y":0.524},{"s":"M","x":9.2,"y":0.517},{"s":"M","x":10.6,"y":0.51},{"s":"M","x":12.1,"y":0.496},{"s":"M","x":13.5,"y":0.474},{"s":"M","x":14.9,"y":0.481},{"s":"M","x":16.3,"y":0.481},{"s":"M","x":17.3,"y":0.488},{"s":"M","x":18.4,"y":0.46},{"s":"M","x":19.9,"y":0.438},{"s":"M","x":21.3,"y":0.424},{"s":"M","x":22.4,"y":0.431},{"s":"M","x":23.4,"y":0.4},{"s":"M","x":24.4,"y":0.424},{"s":"M","x":25.5,"y":0.4},{"s":"M","x":26.7,"y":0.409},{"s":"M","x":27.7,"y":0.395},{"s":"M","x":28.7,"y":0.424},{"s":"M","x":29.8,"y":0.46},{"s":"M","x":30.9,"y":0.53},{"s":"M","x":31.9,"y":0.553},{"s":"M","x":33.3,"y":0.58},{"s":"M","x":34.8,"y":0.66},{"s":"M","x":36.2,"y":0.683},{"s":"M","x":37.6,"y":0.69},{"s":"M","x":39,"y":0.683},{"s":"M","x":40.4,"y":0.661},{"s":"M","x":41.8,"y":0.632},{"s":"M","x":43.3,"y":0.61},{"s":"M","x":44.7,"y":0.597},{"s":"M","x":46.1,"y":0.582},{"s":"M","x":47.5,"y":0.567},{"s":"M","x":48.2,"y":0.56},{"s":"M","x":49.6,"y":0.585},{"s":"M","x":51,"y":0.575},{"s":"M","x":52.5,"y":0.596},{"s":"M","x":53.9,"y":0.61},{"s":"M","x":55.3,"y":0.625},{"s":"M","x":56.7,"y":0.654},{"s":"M","x":57.4,"y":0.668},{"s":"M","x":58.9,"y":0.661},{"s":"M","x":60,"y":0.632},{"s":"M","x":61,"y":0.596},{"s":"M","x":62.4,"y":0.553},{"s":"M","x":63.8,"y":0.53},{"s":"M","x":65.2,"y":0.521},{"s":"M","x":66.6,"y":0.503},{"s":"M","x":67.4,"y":0.488},{"s":"M","x":68.5,"y":0.503},{"s":"M","x":69.9,"y":0.524},{"s":"M","x":71.3,"y":0.538},{"s":"M","x":72.7,"y":0.56},{"s":"M","x":73.7,"y":0.61},{"s":"M","x":75.1,"y":0.613},{"s":"M","x":76.6,"y":0.61},{"s":"M","x":78,"y":0.625},{"s":"M","x":79.4,"y":0.64},{"s":"M","x":80.4,"y":0.661},{"s":"M","x":81.3,"y":0.625},{"s":"M","x":82.7,"y":0.61},{"s":"M","x":84.1,"y":0.59},{"s":"M","x":85.1,"y":0.618},{"s":"M","x":86.1,"y":0.596},{"s":"M","x":87.2,"y":0.582},{"s":"M","x":88.4,"y":0.618},{"s":"M","x":89.4,"y":0.589},{"s":"M","x":90.8,"y":0.604},{"s":"M","x":92.2,"y":0.61},{"s":"M","x":93.6,"y":0.604},{"s":"M","x":95,"y":0.596},{"s":"M","x":96.5,"y":0.58},{"s":"M","x":97.4,"y":0.61},{"s":"M","x":98.6,"y":0.614},{"s":"M","x":99.3,"y":0.625},{"s":"M","x":100,"y":0.66},
{"s":"A","x":0,"y":1},{"s":"A","x":2.1,"y":0.92},{"s":"A","x":3.1,"y":0.9},{"s":"A","x":4.3,"y":0.892},{"s":"A","x":5.4,"y":0.9},{"s":"A","x":6.4,"y":0.885},{"s":"A","x":7.4,"y":0.9},{"s":"A","x":8.5,"y":0.892},{"s":"A","x":9.9,"y":0.863},{"s":"A","x":11.3,"y":0.878},{"s":"A","x":12.5,"y":0.888},{"s":"A","x":13.5,"y":0.928},{"s":"A","x":14.2,"y":0.856},{"s":"A","x":15.3,"y":0.87},{"s":"A","x":16.7,"y":0.856},{"s":"A","x":18.2,"y":0.878},{"s":"A","x":19.1,"y":0.834},{"s":"A","x":20.6,"y":0.856},{"s":"A","x":22,"y":0.877},{"s":"A","x":23.4,"y":0.856},{"s":"A","x":24.8,"y":0.87},{"s":"A","x":26.2,"y":0.86},{"s":"A","x":27.2,"y":0.9},{"s":"A","x":28.4,"y":0.856},{"s":"A","x":29.5,"y":0.834},{"s":"A","x":30.5,"y":0.805},{"s":"A","x":31.2,"y":0.777},{"s":"A","x":31.9,"y":0.668},{"s":"A","x":32.6,"y":0.54},{"s":"A","x":33.3,"y":0.41},{"s":"A","x":34,"y":0.38},{"s":"A","x":35.2,"y":0.35},{"s":"A","x":36.2,"y":0.31},{"s":"A","x":37.6,"y":0.308},{"s":"A","x":39,"y":0.31},{"s":"A","x":40.4,"y":0.322},{"s":"A","x":41.4,"y":0.344},{"s":"A","x":42.8,"y":0.337},{"s":"A","x":44,"y":0.351},{"s":"A","x":45.4,"y":0.358},{"s":"A","x":46.8,"y":0.368},{"s":"A","x":48.2,"y":0.351},{"s":"A","x":49.6,"y":0.362},{"s":"A","x":51,"y":0.344},{"s":"A","x":52.5,"y":0.344},{"s":"A","x":53.9,"y":0.337},{"s":"A","x":55.3,"y":0.294},{"s":"A","x":56.7,"y":0.272},{"s":"A","x":58.1,"y":0.265},{"s":"A","x":59.6,"y":0.253},{"s":"A","x":61,"y":0.253},{"s":"A","x":62.4,"y":0.243},{"s":"A","x":63.8,"y":0.246},{"s":"A","x":65.2,"y":0.24},{"s":"A","x":66.6,"y":0.243},{"s":"A","x":68,"y":0.236},{"s":"A","x":69.5,"y":0.229},{"s":"A","x":71.6,"y":0.226},{"s":"A","x":73.7,"y":0.225},{"s":"A","x":75.9,"y":0.228},{"s":"A","x":78,"y":0.225},{"s":"A","x":80.2,"y":0.228},{"s":"A","x":82.3,"y":0.228},{"s":"A","x":84.4,"y":0.225},{"s":"A","x":86.5,"y":0.231},{"s":"A","x":88.7,"y":0.228},{"s":"A","x":90.8,"y":0.233},{"s":"A","x":92.9,"y":0.229},{"s":"A","x":95,"y":0.232},{"s":"A","x":97.2,"y":0.236},{"s":"A","x":98.6,"y":0.229},{"s":"A","x":100,"y":0.239}
]
},
"concat":[
{"hconcat":[
{"width":236,"height":186,"data":{"name":"a"},"mark":{"type":"line","strokeWidth":1.6,"strokeJoin":"round"},
"encoding":{
"x":{"field":"x","type":"quantitative","scale":{"domain":[0,100],"nice":false},"axis":{"values":[0,20,40,60,80,100],"title":null,"labelFont":"Liberation Serif"}},
"y":{"field":"y","type":"quantitative","scale":{"domain":[0,40],"nice":false,"zero":false},"axis":{"values":[0,10,20,30,40],"title":null,"labelFont":"Liberation Serif"}},
"color":{"field":"s","type":"nominal","scale":{"domain":["P","A","M","V"],"range":["#ff0000","#000000","#00ff00","#0000ff"]},"legend":{"title":null,"orient":"none","legendX":-29,"legendY":-84,"labelExpr":"datum.label=='P'?'Proposed':datum.label=='M'?'Max. Pool.':datum.label=='A'?'Alg. Pool.':'Avg. Pool.'"}}
},
"title":{"text":"(a) Center error for sequence","subtitle":"Woman","dx":-39,"offset":18,"subtitlePadding":14}},
{"width":236,"height":186,"data":{"name":"b"},"mark":{"type":"line","strokeWidth":1.6,"strokeJoin":"round"},
"encoding":{
"x":{"field":"x","type":"quantitative","scale":{"domain":[0,100],"nice":false},"axis":{"values":[0,20,40,60,80,100],"title":null,"labelFont":"Liberation Serif"}},
"y":{"field":"y","type":"quantitative","scale":{"domain":[0,40],"nice":false,"zero":false},"axis":{"values":[0,10,20,30,40],"title":null,"labelFont":"Liberation Serif"}},
"color":{"field":"s","type":"nominal","scale":{"domain":["P","M","V","A"],"range":["#ff0000","#00ff00","#0000ff","#000000"]},"legend":{"title":null,"orient":"none","legendX":-30,"legendY":-84,"labelExpr":"datum.label=='P'?'Proposed':datum.label=='M'?'Max. Pool.':datum.label=='A'?'Alg. Pool.':'Avg. Pool.'"}}
},
"title":{"text":"(b) Center error for sequence","subtitle":"Suv","dx":-41,"offset":18,"subtitlePadding":14}}
],"spacing":90,"bounds":"flush","resolve":{"scale":{"color":"independent"},"legend":{"color":"independent"}}},
{"hconcat":[
{"width":7,"height":185,"data":{"values":[]},"mark":"point"},
{"hconcat":[
{"width":236,"height":185,"data":{"name":"c"},"mark":{"type":"line","strokeWidth":1.6,"strokeJoin":"round"},
"encoding":{
"x":{"field":"x","type":"quantitative","scale":{"domain":[0,100],"nice":false},"axis":{"values":[0,20,40,60,80,100],"title":null,"labelFont":"Liberation Serif"}},
"y":{"field":"y","type":"quantitative","scale":{"domain":[0,1],"nice":false,"zero":false},"axis":{"values":[0,0.2,0.4,0.6,0.8,1],"format":"~g","title":null,"labelFont":"Liberation Serif"}},
"color":{"field":"s","type":"nominal","scale":{"domain":["P","M","A","V"],"range":["#ff0000","#00ff00","#000000","#0000ff"]},"legend":{"title":null,"orient":"none","legendX":-33,"legendY":-84,"labelExpr":"datum.label=='P'?'Proposed':datum.label=='M'?'Max. Pool.':datum.label=='A'?'Alg. Pool.':'Avg. Pool.'"}}
},
"title":{"text":"(c) Overlap rate for sequence","subtitle":"Woman","dx":-46,"offset":23,"subtitlePadding":6}},
{"width":236,"height":185,"data":{"name":"d"},"mark":{"type":"line","strokeWidth":1.6,"strokeJoin":"round"},
"encoding":{
"x":{"field":"x","type":"quantitative","scale":{"domain":[0,100],"nice":false},"axis":{"values":[0,20,40,60,80,100],"title":null,"labelFont":"Liberation Serif"}},
"y":{"field":"y","type":"quantitative","scale":{"domain":[0.2,1],"nice":false,"zero":false},"axis":{"values":[0.2,0.4,0.6,0.8,1],"format":"~g","title":null,"labelFont":"Liberation Serif"}},
"color":{"field":"s","type":"nominal","scale":{"domain":["P","M","V","A"],"range":["#ff0000","#00ff00","#0000ff","#000000"]},"legend":{"title":null,"orient":"none","legendX":-30,"legendY":-84,"labelExpr":"datum.label=='P'?'Proposed':datum.label=='M'?'Max. Pool.':datum.label=='A'?'Alg. Pool.':'Avg. Pool.'"}}
},
"title":{"text":"(d) Overlap rate for sequence","subtitle":"Suv","dx":-47,"offset":23,"subtitlePadding":6}}
],"spacing":90,"bounds":"flush","resolve":{"scale":{"color":"independent"},"legend":{"color":"independent"}}}
],"spacing":0,"bounds":"flush","resolve":{"scale":{"color":"independent"},"legend":{"color":"independent"}}}
],
"columns":1,
"align":"none",
"spacing":6,
"bounds":"full",
"resolve":{"scale":{"color":"independent"},"legend":{"color":"independent"}},
"config":{
"font":"Liberation Serif",
"view":{"stroke":null},
"axis":{"grid":false,"domainColor":"#000000","domainWidth":1,"tickColor":"#999999","tickSize":-10,"tickWidth":1,"labelPadding":16,"labelFont":"Liberation Serif","labelFontSize":17,"labelColor":"#000000","labelFlush":false,"labelOverlap":false},
"legend":{"columns":2,"strokeColor":"#000000","strokeWidth":1,"padding":9,"cornerRadius":0,"fillColor":"#ffffff","symbolType":"M-1,0H4","symbolSize":324,"symbolStrokeWidth":1.6,"labelFont":"Liberation Serif","labelFontSize":18,"labelColor":"#000000","labelOffset":34,"columnPadding":10,"rowPadding":10,"labelLimit":300},
"title":{"orient":"bottom","anchor":"start","frame":"group","font":"Liberation Serif","fontSize":24,"fontWeight":"normal","color":"#000000","subtitleFont":"Liberation Mono","subtitleFontSize":22,"subtitleColor":"#000000"}
}
}
